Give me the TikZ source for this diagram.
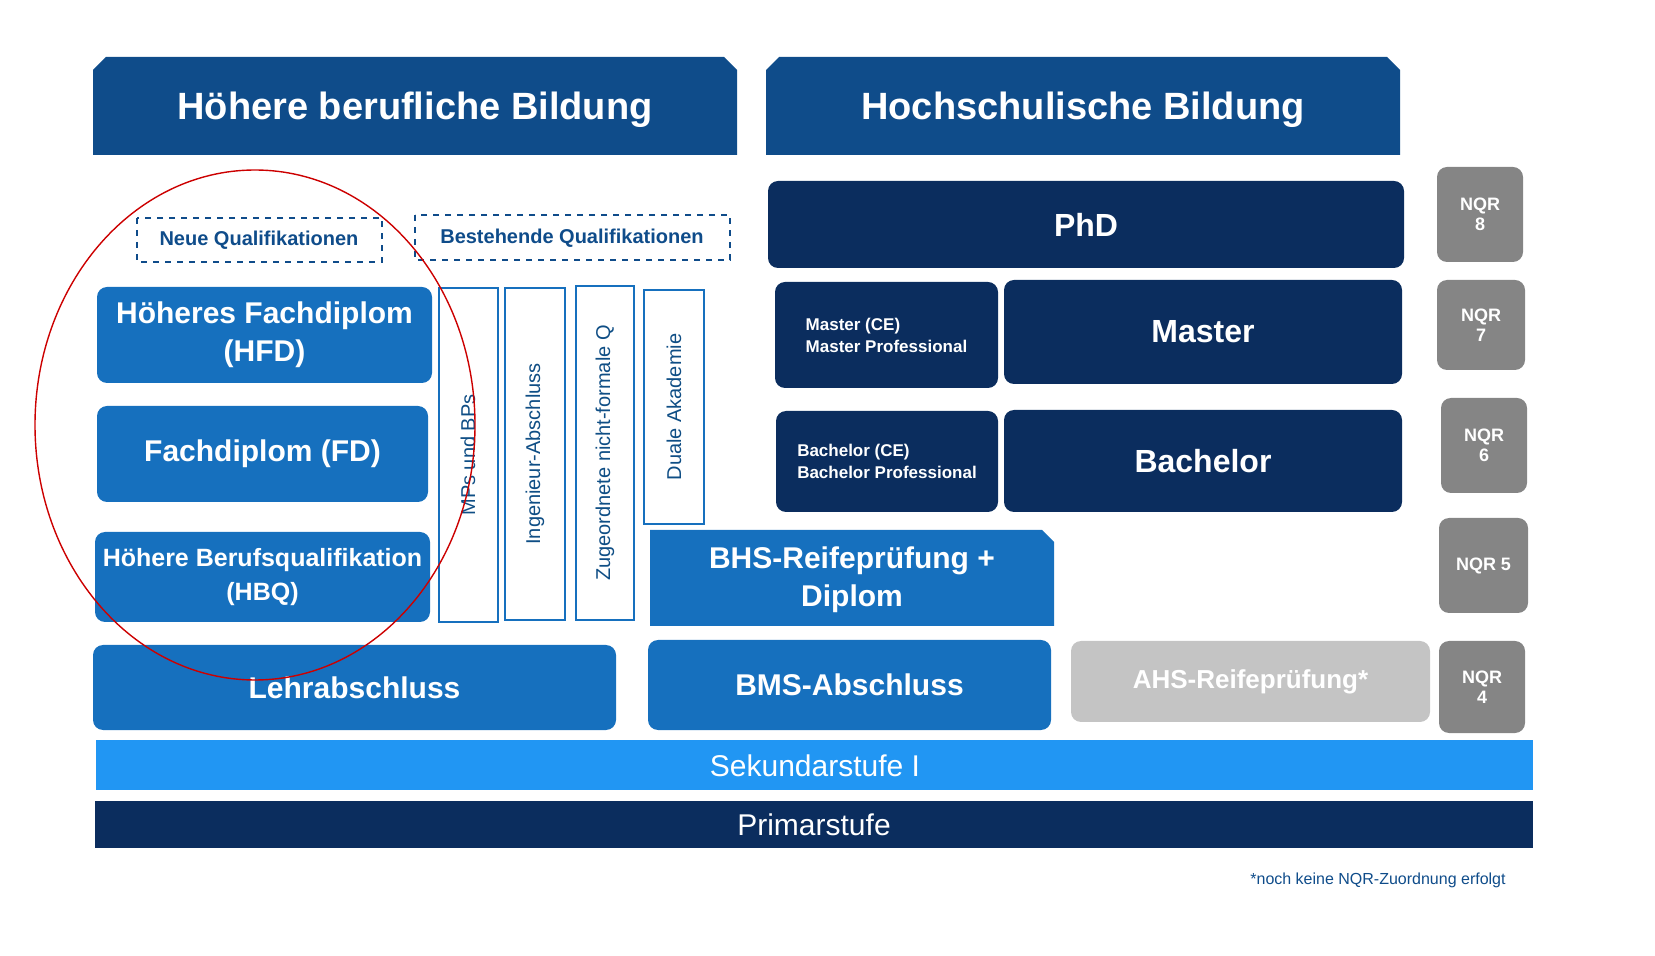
\documentclass[tikz,border=0pt]{standalone}
\usepackage{fontspec}
\setmainfont{Liberation Sans}
\usetikzlibrary{shapes.geometric}
\definecolor{hdr}{HTML}{0F4C8A}
\definecolor{navy}{HTML}{0B2D5E}
\definecolor{mid}{HTML}{1670BE}
\definecolor{sek}{HTML}{2196F3}
\definecolor{nqr}{HTML}{858585}
\definecolor{ahs}{HTML}{C4C4C4}
\begin{document}
\begin{tikzpicture}[x=0.5pt,y=-0.5pt,
 box/.style={rounded corners=5pt,text=white,font=\bfseries,align=center},
 midb/.style={box,fill=mid},
 navyb/.style={box,fill=navy},
 nqrb/.style={box,fill=nqr,font=\bfseries\fontsize{9}{10}\selectfont},
 vbox/.style={draw=mid,line width=0.8pt,fill=white},
 vtxt/.style={rotate=90,text=mid!70!black,font=\fontsize{10}{12}\selectfont},
 dashbox/.style={draw=hdr,dashed,line width=0.6pt},
 dashtxt/.style={text=hdr,font=\bfseries\fontsize{10}{12}\selectfont}]
\useasboundingbox (0,0) rectangle (1655,956);
% headers
\fill[hdr] (93,155) -- (93,70) -- (106,57) -- (724,57) -- (737,70) -- (737,155) -- cycle;
\node[text=white,font=\bfseries\fontsize{19}{22}\selectfont] (h1) at (415,110) {Höhere berufliche Bildung};
\fill[hdr] (766,155) -- (766,70) -- (779,57) -- (1387,57) -- (1400,70) -- (1400,155) -- cycle;
\node[text=white,font=\bfseries\fontsize{19}{22}\selectfont] (h2) at (1083,110) {Hochschulische Bildung};
% dashed labels
\draw[dashbox] (137,218) rectangle (382,262);
\node[dashtxt] (nq) at (259,240) {Neue Qualifikationen};
\draw[dashbox] (415,215) rectangle (730,260);
\node[dashtxt] (bq) at (572,238) {Bestehende Qualifikationen};
% left blue boxes
\path[midb] (97,287) rectangle (432,383) node[midway,font=\bfseries\fontsize{15}{19}\selectfont] (hfd) {Höheres Fachdiplom\\(HFD)};
\path[midb] (97,406) rectangle (428,502) node[midway,font=\bfseries\fontsize{15}{19}\selectfont] (fd) {Fachdiplom (FD)};
\path[midb] (95,532) rectangle (430,622) node[midway,font=\bfseries\fontsize{12.5}{17}\selectfont] (hbq) {Höhere Berufsqualifikation\\(HBQ)};
% vertical boxes
\draw[vbox] (439,288) rectangle (498,622); \node[vtxt] (v1) at (468,455) {MPs und BPs};
\draw[vbox] (505,288) rectangle (565,620); \node[vtxt] (v2) at (535,454) {Ingenieur-Abschluss};
\draw[vbox] (576,286) rectangle (634,620); \node[vtxt] (v3) at (605,453) {Zugeordnete nicht-formale Q};
\draw[vbox] (644,290) rectangle (704,524); \node[vtxt] (v4) at (674,407) {Duale Akademie};
% BHS
\fill[mid] (650,626) -- (650,530) -- (1042,530) -- (1054,542) -- (1054,626) -- cycle;
\node[text=white,font=\bfseries\fontsize{15}{19}\selectfont,align=center] (bhs) at (852,580) {BHS-Reifeprüfung +\\Diplom};
\path[midb] (93,645) rectangle (616,730) node[midway,font=\bfseries\fontsize{15}{18}\selectfont] (lehr) {Lehrabschluss};
\path[midb] (648,640) rectangle (1051,730) node[midway,font=\bfseries\fontsize{15}{18}\selectfont] (bms) {BMS-Abschluss};
\path[box,fill=ahs] (1071,641) rectangle (1430,722) node[midway,font=\bfseries\fontsize{13}{16}\selectfont] (ahs) {AHS-Reifeprüfung*};
% bottom bands
\fill[sek] (96,740) rectangle (1533,790); \node[text=white,font=\fontsize{15}{18}\selectfont] (sek) at (815,766) {Sekundarstufe I};
\fill[navy] (95,801) rectangle (1533,848); \node[text=white,font=\fontsize{15}{18}\selectfont] (prim) at (814,825) {Primarstufe};
% right navy boxes
\path[navyb] (768,181) rectangle (1404,268) node[midway,font=\bfseries\fontsize{16}{19}\selectfont] (phd) {PhD};
\path[navyb] (775,282) rectangle (998,388) node[midway,align=left,font=\bfseries\fontsize{8.5}{11}\selectfont] (mce) {Master (CE)\\Master Professional};
\path[navyb] (1004,280) rectangle (1402,384) node[midway,font=\bfseries\fontsize{16}{19}\selectfont] (ma) {Master};
\path[navyb] (776,411) rectangle (998,512) node[midway,align=left,font=\bfseries\fontsize{8.5}{11}\selectfont] (bce) {Bachelor (CE)\\Bachelor Professional};
\path[navyb] (1004,410) rectangle (1402,512) node[midway,font=\bfseries\fontsize{16}{19}\selectfont] (ba) {Bachelor};
% NQR
\path[nqrb] (1437,167) rectangle (1523,262) node[midway] (n8) {NQR\\8};
\path[nqrb] (1437,280) rectangle (1525,370) node[midway] (n7) {NQR\\7};
\path[nqrb] (1441,398) rectangle (1527,493) node[midway] (n6) {NQR\\6};
\path[nqrb] (1439,518) rectangle (1528,613) node[midway] (n5) {NQR 5};
\path[nqrb] (1439,641) rectangle (1525,733) node[midway] (n4) {NQR\\4};
% red ellipse
\draw[red!80!black,line width=0.7pt] (255,425) ellipse [x radius=220,y radius=255];
\node[text=hdr,font=\fontsize{8}{10}\selectfont] (fn) at (1378,880) {*noch keine NQR-Zuordnung erfolgt};
\end{tikzpicture}
\end{document}
